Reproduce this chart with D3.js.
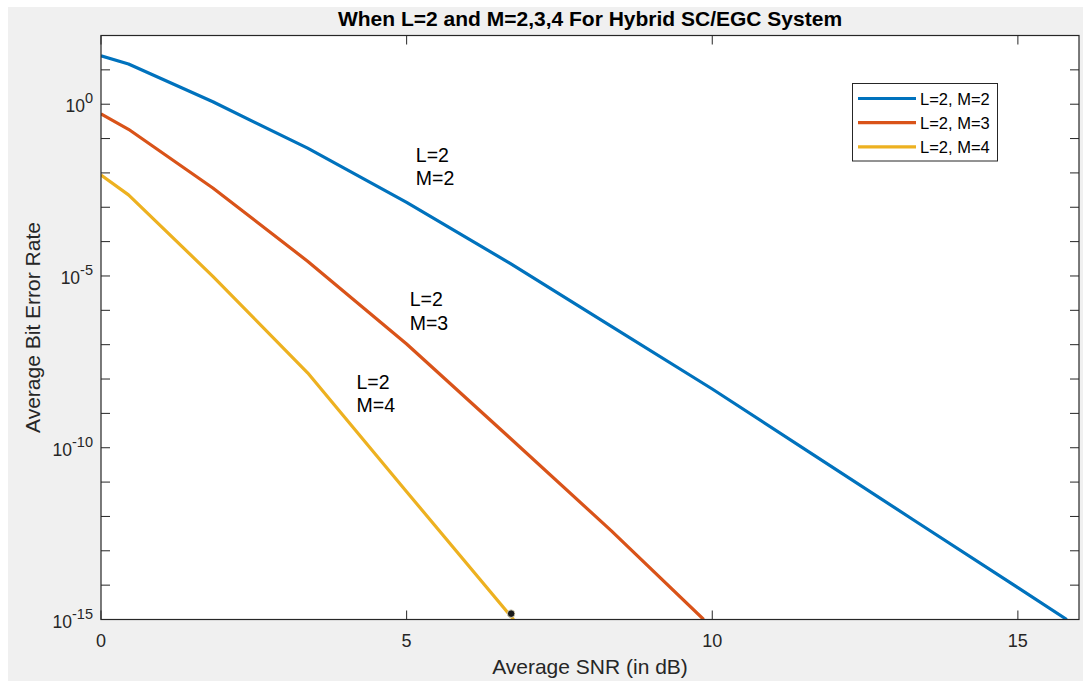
<!DOCTYPE html>
<html>
<head>
<meta charset="utf-8">
<script src="https://cdn.jsdelivr.net/npm/d3@7"></script>
<style>
  html, body { margin: 0; padding: 0; background: #ffffff; }
  svg { display: block; font-family: "Liberation Sans", Arial, Helvetica, sans-serif; }
</style>
</head>
<body>
<svg id="chart" width="1083" height="681"></svg>
<script>
// ---------- data ----------
const titleText = "When L=2 and M=2,3,4 For Hybrid SC/EGC System";
const xLabelText = "Average SNR (in dB)";
const yLabelText = "Average Bit Error Rate";
const seriesNames = ["L=2, M=2", "L=2, M=3", "L=2, M=4"];
const seriesColors = ["#0072BD", "#D95319", "#EDB120"];

// SNR (dB) sample positions and log10(BER) values for each curve
const snrM2 = [0, 0.45, 1.83, 3.38, 5.0, 6.7, 8.35, 10.0, 11.65, 13.3, 15.0, 15.8];
const logBerM2 = [1.41, 1.17, 0.07, -1.28, -2.86, -4.64, -6.47, -8.29, -10.2, -12.11, -14.07, -15.0];

const snrM3 = [0, 0.45, 1.83, 3.38, 5.0, 6.7, 8.35, 9.86];
const logBerM3 = [-0.28, -0.73, -2.44, -4.57, -6.98, -9.73, -12.42, -15.0];

const snrM4 = [0, 0.45, 1.83, 3.38, 5.0, 6.75];
const logBerM4 = [-2.06, -2.64, -5.01, -7.82, -11.28, -15.0];

// data tip marker
const markerPoint = { snr: 6.71, logBer: -14.83 };

// text annotations
const annotations = [
  { lines: ["L=2", "M=2"], snr: 5.15, logBer: -1.68 },
  { lines: ["L=2", "M=3"], snr: 5.05, logBer: -5.88 },
  { lines: ["L=2", "M=4"], snr: 4.18, logBer: -8.28 }
];

const xTicks = [0, 5, 10, 15];
const yMajorExp = [0, -5, -10, -15];
const yAllExp = d3.range(-15, 3);
const xDomain = [0, 16];
const yDomain = [1e-15, 1e2];

// ---------- layout ----------
const svg = d3.select("#chart");
const W = 1083, H = 681;
const plot = { left: 101, top: 35.5, right: 1079, bottom: 619.5 };
const axisColor = "#262626";

svg.append("rect").attr("x", 0).attr("y", 0).attr("width", W).attr("height", H).attr("fill", "#ffffff");
svg.append("rect").attr("x", 8).attr("y", 7).attr("width", W - 8).attr("height", H - 7).attr("fill", "#f0f0f0");

const x = d3.scaleLinear().domain(xDomain).range([plot.left, plot.right]);
const y = d3.scaleLog().domain(yDomain).range([plot.bottom, plot.top]);

// plot area
svg.append("rect")
  .attr("x", plot.left).attr("y", plot.top)
  .attr("width", plot.right - plot.left).attr("height", plot.bottom - plot.top)
  .attr("fill", "#ffffff");

// clip
svg.append("clipPath").attr("id", "clip")
  .append("rect")
  .attr("x", plot.left).attr("y", plot.top)
  .attr("width", plot.right - plot.left).attr("height", plot.bottom - plot.top);

// ---------- curves ----------
const series = [
  { name: seriesNames[0], color: seriesColors[0], xs: snrM2, ys: logBerM2 },
  { name: seriesNames[1], color: seriesColors[1], xs: snrM3, ys: logBerM3 },
  { name: seriesNames[2], color: seriesColors[2], xs: snrM4, ys: logBerM4 }
];

const line = d3.line().x(d => x(d[0])).y(d => y(Math.pow(10, d[1])));

const gLines = svg.append("g").attr("clip-path", "url(#clip)");
series.forEach(s => {
  gLines.append("path")
    .datum(s.xs.map((v, i) => [v, s.ys[i]]))
    .attr("d", line)
    .attr("fill", "none")
    .attr("stroke", s.color)
    .attr("stroke-width", 3.2)
    .attr("stroke-linejoin", "round");
});

// marker
svg.append("circle")
  .attr("cx", x(markerPoint.snr)).attr("cy", y(Math.pow(10, markerPoint.logBer)))
  .attr("r", 3.8).attr("fill", "#1a1a1a").attr("stroke", "#f7f0d0").attr("stroke-width", 0.8);

// ---------- axes ----------
const tickLen = 9;
const gAxes = svg.append("g");

// box
gAxes.append("rect")
  .attr("x", plot.left).attr("y", plot.top)
  .attr("width", plot.right - plot.left).attr("height", plot.bottom - plot.top)
  .attr("fill", "none").attr("stroke", axisColor).attr("stroke-width", 1.2);

// x ticks (bottom and top, inward)
xTicks.forEach(t => {
  const px = x(t);
  gAxes.append("line").attr("x1", px).attr("x2", px).attr("y1", plot.bottom).attr("y2", plot.bottom - tickLen)
    .attr("stroke", axisColor).attr("stroke-width", 1);
  gAxes.append("line").attr("x1", px).attr("x2", px).attr("y1", plot.top).attr("y2", plot.top + tickLen)
    .attr("stroke", axisColor).attr("stroke-width", 1);
  gAxes.append("text").attr("x", px).attr("y", plot.bottom + 27)
    .attr("text-anchor", "middle").attr("font-size", 18).attr("fill", axisColor).text(d3.format("d")(t));
});

// y ticks (every decade, left and right, inward)
yAllExp.forEach(e => {
  const py = y(Math.pow(10, e));
  gAxes.append("line").attr("x1", plot.left).attr("x2", plot.left + tickLen).attr("y1", py).attr("y2", py)
    .attr("stroke", axisColor).attr("stroke-width", 1);
  gAxes.append("line").attr("x1", plot.right).attr("x2", plot.right - tickLen).attr("y1", py).attr("y2", py)
    .attr("stroke", axisColor).attr("stroke-width", 1);
});
yMajorExp.forEach(e => {
  const py = y(Math.pow(10, e));
  const t = gAxes.append("text").attr("x", plot.left - 8).attr("y", py + 8)
    .attr("text-anchor", "end").attr("font-size", 17.5).attr("fill", axisColor);
  t.append("tspan").text("10");
  t.append("tspan").attr("dy", -9).attr("font-size", 14.5).text(String(e));
});

// axis labels
svg.append("text").attr("x", (plot.left + plot.right) / 2).attr("y", 674)
  .attr("text-anchor", "middle").attr("font-size", 21).attr("fill", axisColor).text(xLabelText);
svg.append("text")
  .attr("transform", `translate(40, ${(plot.top + plot.bottom) / 2}) rotate(-90)`)
  .attr("text-anchor", "middle").attr("font-size", 21).attr("fill", axisColor).text(yLabelText);

// title
svg.append("text").attr("x", (plot.left + plot.right) / 2).attr("y", 26)
  .attr("text-anchor", "middle").attr("font-size", 21).attr("font-weight", "bold").attr("fill", "#000")
  .text(titleText);

// annotations
annotations.forEach(a => {
  const t = svg.append("text").attr("x", x(a.snr)).attr("y", y(Math.pow(10, a.logBer)))
    .attr("font-size", 19.5).attr("fill", "#000");
  a.lines.forEach((l, i) => {
    t.append("tspan").attr("x", x(a.snr)).attr("dy", i === 0 ? 0 : 23.5).text(l);
  });
});

// legend
const lg = svg.append("g");
lg.append("rect").attr("x", 852.5).attr("y", 83.5).attr("width", 145).attr("height", 77.5)
  .attr("fill", "#ffffff").attr("stroke", axisColor).attr("stroke-width", 1);
series.forEach((s, i) => {
  const ly = 98.5 + i * 24.2;
  lg.append("line").attr("x1", 858).attr("x2", 916).attr("y1", ly).attr("y2", ly)
    .attr("stroke", s.color).attr("stroke-width", 3.2);
  lg.append("text").attr("x", 920).attr("y", ly + 6).attr("font-size", 16.5).attr("fill", "#000").text(s.name);
});
</script>
</body>
</html>
